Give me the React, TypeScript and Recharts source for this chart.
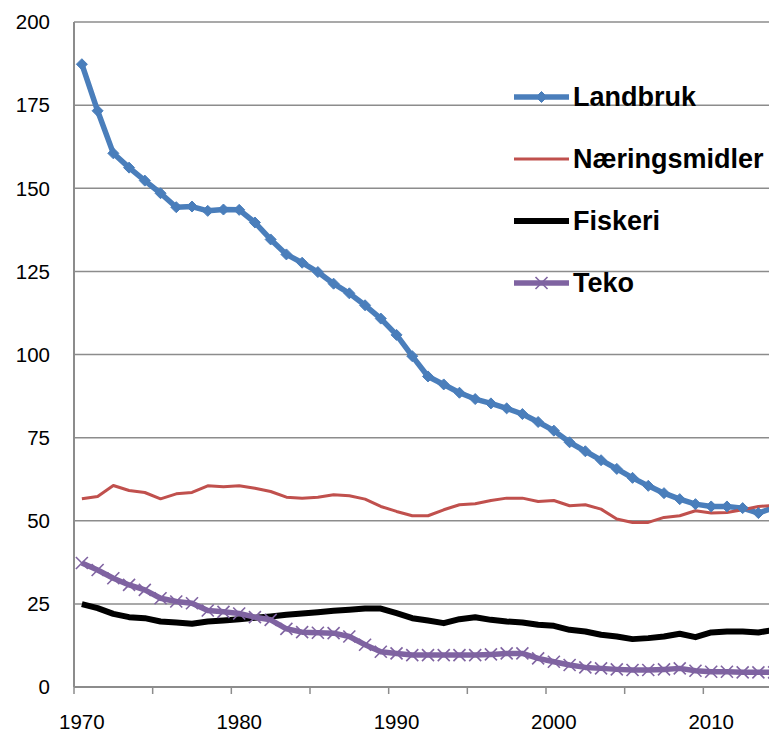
import React from "react";
import { LineChart, Line, XAxis, YAxis, CartesianGrid, Legend } from "recharts";

const years = [
  1970, 1971, 1972, 1973, 1974, 1975, 1976, 1977, 1978, 1979,
  1980, 1981, 1982, 1983, 1984, 1985, 1986, 1987, 1988, 1989,
  1990, 1991, 1992, 1993, 1994, 1995, 1996, 1997, 1998, 1999,
  2000, 2001, 2002, 2003, 2004, 2005, 2006, 2007, 2008, 2009,
  2010, 2011, 2012, 2013, 2014,
];
const landbruk = [
  187.3, 173.3, 160.5, 156.2, 152.3, 148.5, 144.3, 144.5, 143.2, 143.6,
  143.5, 139.7, 134.6, 130.1, 127.6, 124.8, 121.3, 118.4, 114.8, 110.8,
  105.9, 99.5, 93.4, 91.0, 88.5, 86.6, 85.3, 83.8, 82.1, 79.7,
  77.1, 73.6, 70.9, 68.2, 65.6, 62.9, 60.5, 58.3, 56.5, 55.0,
  54.3, 54.3, 53.8, 52.3, 54.0,
];
const naeringsmidler = [
  56.6, 57.3, 60.6, 59.1, 58.5, 56.6, 58.1, 58.5, 60.5, 60.2,
  60.5, 59.8, 58.8, 57.1, 56.8, 57.1, 57.8, 57.5, 56.5, 54.3,
  52.8, 51.5, 51.5, 53.3, 54.8, 55.1, 56.1, 56.8, 56.8, 55.8,
  56.1, 54.5, 54.8, 53.5, 50.5, 49.5, 49.5, 51.0, 51.5, 53.0,
  52.3, 52.5, 53.3, 54.3, 54.6,
];
const fiskeri = [
  24.9, 23.7, 22.0, 21.0, 20.7, 19.7, 19.4, 19.0, 19.7, 20.0,
  20.4, 20.8, 21.2, 21.7, 22.1, 22.5, 22.9, 23.2, 23.6, 23.6,
  22.2, 20.7, 20.0, 19.2, 20.4, 21.0, 20.2, 19.7, 19.4, 18.7,
  18.4, 17.2, 16.7, 15.7, 15.2, 14.4, 14.7, 15.2, 16.0, 15.0,
  16.4, 16.7, 16.7, 16.4, 17.2,
];
const teko = [
  37.3, 35.2, 32.7, 30.7, 29.2, 26.7, 25.7, 25.2, 23.0, 22.6,
  22.1, 21.0, 20.2, 17.5, 16.5, 16.3, 16.2, 15.2, 12.7, 10.6,
  10.1, 9.6, 9.6, 9.6, 9.6, 9.6, 9.8, 10.1, 10.1, 8.6,
  7.6, 6.6, 5.9, 5.6, 5.3, 5.1, 5.1, 5.3, 5.6, 4.9,
  4.6, 4.6, 4.4, 4.4, 4.4,
];
const yTicks = [0, 25, 50, 75, 100, 125, 150, 175, 200];
const yearLabels = [1970, 1980, 1990, 2000, 2010];
const tickMarks = [1969.5, 1974.5, 1979.5, 1984.5, 1989.5, 1994.5, 1999.5, 2004.5, 2009.5, 2014.5];

const data = years.map((y, i) => ({
  year: y,
  landbruk: landbruk[i],
  naeringsmidler: naeringsmidler[i],
  fiskeri: fiskeri[i],
  teko: teko[i],
}));

const BLUE = "#4A7EBB";
const RED = "#C0504D";
const BLACK = "#000000";
const PURPLE = "#7F63A1";
const GRID = "#8C8C8C";
const FONT = '"Liberation Sans", Arial, sans-serif';

const series = [
  { key: "landbruk", name: "Landbruk", color: BLUE, width: 5.5, marker: "diamond" },
  { key: "naeringsmidler", name: "Næringsmidler", color: RED, width: 3, marker: "none" },
  { key: "fiskeri", name: "Fiskeri", color: BLACK, width: 6, marker: "none" },
  { key: "teko", name: "Teko", color: PURPLE, width: 5.5, marker: "cross" },
];

function Marker({ type, cx, cy, color }: { type: string; cx: number; cy: number; color: string }) {
  if (type === "diamond") {
    const r = 5.5;
    return <polygon points={`${cx},${cy - r} ${cx + r},${cy} ${cx},${cy + r} ${cx - r},${cy}`} fill={color} stroke={color} strokeWidth={1} />;
  }
  if (type === "cross") {
    const r = 6;
    return (
      <g stroke={color} strokeWidth={1.6}>
        <line x1={cx - r} y1={cy - r} x2={cx + r} y2={cy + r} />
        <line x1={cx - r} y1={cy + r} x2={cx + r} y2={cy - r} />
      </g>
    );
  }
  return null;
}

const XTick = (props: any) => {
  const { x, y, payload } = props;
  const v = payload.value;
  if (yearLabels.includes(v)) {
    return (
      <text x={x} y={y + 35} dy="0.35em" textAnchor="middle" fontSize={20.5} fontFamily={FONT} fill="#000">
        {v}
      </text>
    );
  }
  return <line x1={x} x2={x} y1={y} y2={y + 7} stroke={GRID} strokeWidth={1.5} />;
};

const renderLegend = () => (
  <div style={{ display: "flex", flexDirection: "column" }}>
    {series.map((s) => (
      <div key={s.key} style={{ display: "flex", alignItems: "center", height: 62 }}>
        <svg width={59} height={20} style={{ display: "block" }}>
          <line x1={0} x2={55} y1={10} y2={10} stroke={s.color} strokeWidth={s.width} />
          <Marker type={s.marker} cx={27.5} cy={10} color={s.color} />
        </svg>
        <span style={{ fontFamily: FONT, fontWeight: "bold", fontSize: 27, color: "#000", whiteSpace: "nowrap" }}>
          {s.name}
        </span>
      </div>
    ))}
  </div>
);

export default function App() {
  return (
    <div style={{ position: "absolute", left: 8, top: 8, width: 761, height: 729, overflow: "hidden", background: "#fff" }}>
      <LineChart width={774} height={729} data={data} margin={{ top: 14, right: 0, bottom: 0, left: 0 }}>
        <CartesianGrid vertical={false} stroke={GRID} strokeWidth={1.5} />
        <XAxis
          dataKey="year"
          type="number"
          domain={[1969.5, 2014.5]}
          ticks={[...tickMarks, ...yearLabels].sort((a, b) => a - b)}
          interval={0}
          height={50}
          tickSize={0}
          tickMargin={0}
          tickLine={false}
          axisLine={{ stroke: GRID, strokeWidth: 2 }}
          tick={<XTick />}
          allowDataOverflow
        />
        <YAxis
          domain={[0, 200]}
          ticks={yTicks}
          width={66}
          tickSize={0}
          tickMargin={24}
          tickLine={false}
          axisLine={{ stroke: GRID, strokeWidth: 2 }}
          tick={{ fontSize: 20.5, fontFamily: FONT, fill: "#000" }}
          interval={0}
        />
        <Legend layout="vertical" align="center" verticalAlign="middle" content={renderLegend} wrapperStyle={{ left: 506, top: 58, width: 262 }} />
        {series.map((s) => (
          <Line
            key={s.key}
            type="linear"
            dataKey={s.key}
            name={s.name}
            stroke={s.color}
            strokeWidth={s.width}
            strokeLinejoin="round"
            activeDot={false}
            isAnimationActive={false}
            dot={
              s.marker === "none"
                ? false
                : (p: any) => <Marker key={`${s.key}-${p.index}`} type={s.marker} cx={p.cx} cy={p.cy} color={s.color} />
            }
          />
        ))}
      </LineChart>
    </div>
  );
}
